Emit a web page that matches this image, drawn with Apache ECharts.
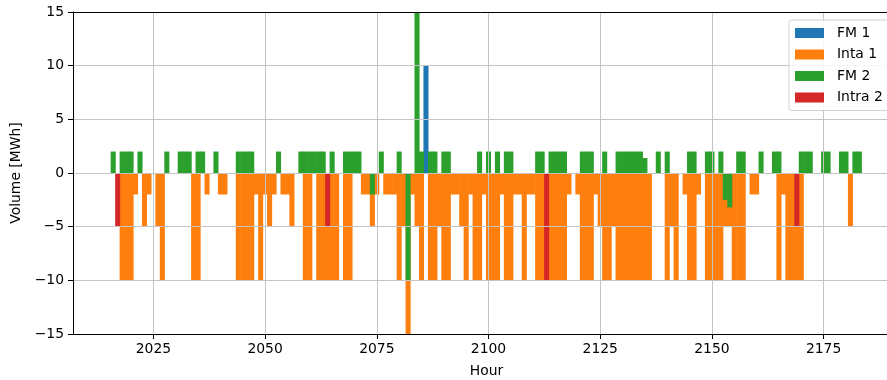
<!DOCTYPE html>
<html><head><meta charset="utf-8">
<script src="https://cdn.jsdelivr.net/npm/echarts@6/dist/echarts.min.js"></script>
<style>html,body{margin:0;padding:0;background:#fff}#c{width:887px;height:380px}</style>
</head><body><div id="c"></div>
<script>
// ---- data ----
const xTicks = [2025, 2050, 2075, 2100, 2125, 2150, 2175];
const yTicks = [-15, -10, -5, 0, 5, 10, 15];
const seriesNames = ['FM 1', 'Inta 1', 'FM 2', 'Intra 2'];
const fm1 = [[2086, 10]];
const inta1 = [
  [2018,-10],[2019,-10],[2020,-10],[2021,-2],[2023,-5],[2024,-2],[2026,-5],[2027,-10],
  [2034,-10],[2035,-10],[2037,-2],[2040,-2],[2041,-2],[2044,-10],[2045,-10],[2046,-10],[2047,-10],
  [2048,-2],[2049,-10],[2050,-2],[2051,-5],[2052,-2],[2054,-2],[2055,-2],[2056,-5],
  [2059,-10],[2060,-10],[2062,-10],[2063,-10],[2064,-10],[2065,-10],[2066,-10],[2068,-10],[2069,-10],
  [2072,-2],[2073,-2],[2074,-5],[2075,-2],[2077,-2],[2078,-2],[2079,-2],[2080,-10],[2081,-5],
  [2082,-15],[2083,-2],[2084,-5],[2085,-10],[2087,-10],[2088,-10],[2089,-5],[2090,-10],[2091,-10],
  [2092,-2],[2093,-2],[2094,-5],[2095,-10],[2096,-2],[2097,-10],[2098,-10],[2099,-2],[2100,-10],
  [2101,-10],[2102,-10],[2103,-2],[2104,-10],[2105,-10],[2106,-2],[2107,-2],[2108,-10],[2109,-2],
  [2110,-2],[2111,-10],[2112,-10],[2113,-10],[2114,-10],[2115,-10],[2116,-10],[2117,-10],[2118,-2],
  [2120,-2],[2121,-10],[2122,-10],[2123,-10],[2124,-2],[2125,-5],[2126,-10],[2127,-10],[2128,-5],
  [2129,-10],[2130,-10],[2131,-10],[2132,-10],[2133,-10],[2134,-10],[2135,-10],[2136,-10],
  [2140,-10],[2141,-5],[2142,-10],[2144,-2],[2145,-10],[2146,-10],[2147,-2],[2149,-10],[2150,-10],
  [2151,-10],[2152,-10],[2153,-5],[2154,-5],[2155,-10],[2156,-10],[2157,-10],[2159,-2],[2160,-2],
  [2165,-10],[2166,-2],[2167,-10],[2168,-10],[2169,-10],[2170,-10],[2181,-5]
];
const fm2 = [
  [2016,2],[2018,2],[2019,2],[2020,2],[2022,2],[2028,2],[2031,2],[2032,2],[2033,2],[2035,2],[2036,2],
  [2039,2],[2044,2],[2045,2],[2046,2],[2047,2],[2053,2],[2058,2],[2059,2],[2060,2],[2061,2],[2062,2],
  [2063,2],[2065,2],[2068,2],[2069,2],[2070,2],[2071,2],[2074,-2],[2076,2],[2080,2],[2082,-10],
  [2084,15],[2085,2],[2087,2],[2088,2],[2090,2],[2091,2],[2098,2],[2100,2],[2102,2],[2104,2],[2105,2],
  [2111,2],[2112,2],[2114,2],[2115,2],[2116,2],[2117,2],[2121,2],[2122,2],[2123,2],[2126,2],
  [2129,2],[2130,2],[2131,2],[2132,2],[2133,2],[2134,2],[2135,1.4],[2138,2],[2140,2],[2145,2],[2146,2],
  [2149,2],[2150,2],[2152,2],[2153,-2.5],[2154,-3.2],[2156,2],[2157,2],[2161,2],[2164,2],[2165,2],
  [2170,2],[2171,2],[2172,2],[2175,2],[2176,2],[2179,2],[2180,2],[2182,2],[2183,2]
];
const intra2 = [[2017,-5],[2064,-5],[2113,-10],[2169,-5]];

// ---- layout / style ----
const W = 887, gridLeft = 73, gridRight = -2, xMin = 2007, pxPerHour = 4.468;
const xMax = xMin + (W - gridLeft - gridRight) / pxPerHour;
const colors = ['#1f77b4', '#ff7f0e', '#2ca02c', '#d62728'];
const font = 'DejaVu Sans';
const fmt = v => (v < 0 ? '\u2212' + (-v) : String(v));

const chart = echarts.init(document.getElementById('c'), null, {renderer: 'canvas'});
const dataSets = [fm1, inta1, fm2, intra2];
chart.setOption({
  animation: false,
  color: colors,
  grid: {left: gridLeft, right: gridRight, top: 12, bottom: 46, outerBoundsMode: 'none', containLabel: false,
         show: false},
  legend: {
    orient: 'vertical', left: 789, top: 20, z: 10,
    padding: [5, 8, 5, 6], itemGap: 5.5, itemWidth: 29, itemHeight: 10, icon: 'rect',
    backgroundColor: 'rgba(255,255,255,0.85)', borderColor: '#d0d0d0', borderWidth: 1, borderRadius: 3,
    textStyle: {fontFamily: font, fontSize: 13.9, color: '#000', padding: [0, 0, 0, 8], lineHeight: 16},
    data: seriesNames
  },
  xAxis: [{
    type: 'value', min: xMin, max: xMax, z: 5, position: 'bottom',
    name: 'Hour', nameLocation: 'middle', nameGap: 30,
    nameTextStyle: {fontFamily: font, fontSize: 13.9, color: '#000', padding: [0, 0, 0, 11]},
    axisLine: {show: true, onZero: false, lineStyle: {color: '#000', width: 1}},
    axisTick: {show: true, length: 5, lineStyle: {color: '#000'}, customValues: xTicks},
    axisLabel: {fontFamily: font, fontSize: 13.9, color: '#000', margin: 8, customValues: xTicks,
                formatter: v => String(v)},
    splitLine: {show: true, lineStyle: {color: '#c4c4c4', width: 1}}
  }, {
    type: 'value', min: xMin, max: xMax, z: 5, position: 'top',
    axisLine: {show: true, onZero: false, lineStyle: {color: '#000', width: 1}},
    axisTick: {show: false}, axisLabel: {show: false}, splitLine: {show: false}
  }],
  yAxis: {
    type: 'value', min: -15, max: 15, interval: 5, z: 5,
    name: 'Volume [MWh]', nameLocation: 'middle', nameGap: 45, nameRotate: 90,
    nameTextStyle: {fontFamily: font, fontSize: 13.9, color: '#000'},
    axisLine: {show: true, lineStyle: {color: '#000', width: 1}},
    axisTick: {show: true, length: 5, lineStyle: {color: '#000'}},
    axisLabel: {fontFamily: font, fontSize: 13.9, color: '#000', margin: 9, formatter: fmt, customValues: yTicks},
    splitLine: {show: true, lineStyle: {color: '#c4c4c4', width: 1}}
  },
  series: seriesNames.map((n, i) => ({
    type: 'bar', name: n, data: dataSets[i], xAxisIndex: 0,
    barWidth: pxPerHour + 0.6, barGap: '-100%',
    itemStyle: {color: colors[i]}, z: 2
  }))
});
</script></body></html>
